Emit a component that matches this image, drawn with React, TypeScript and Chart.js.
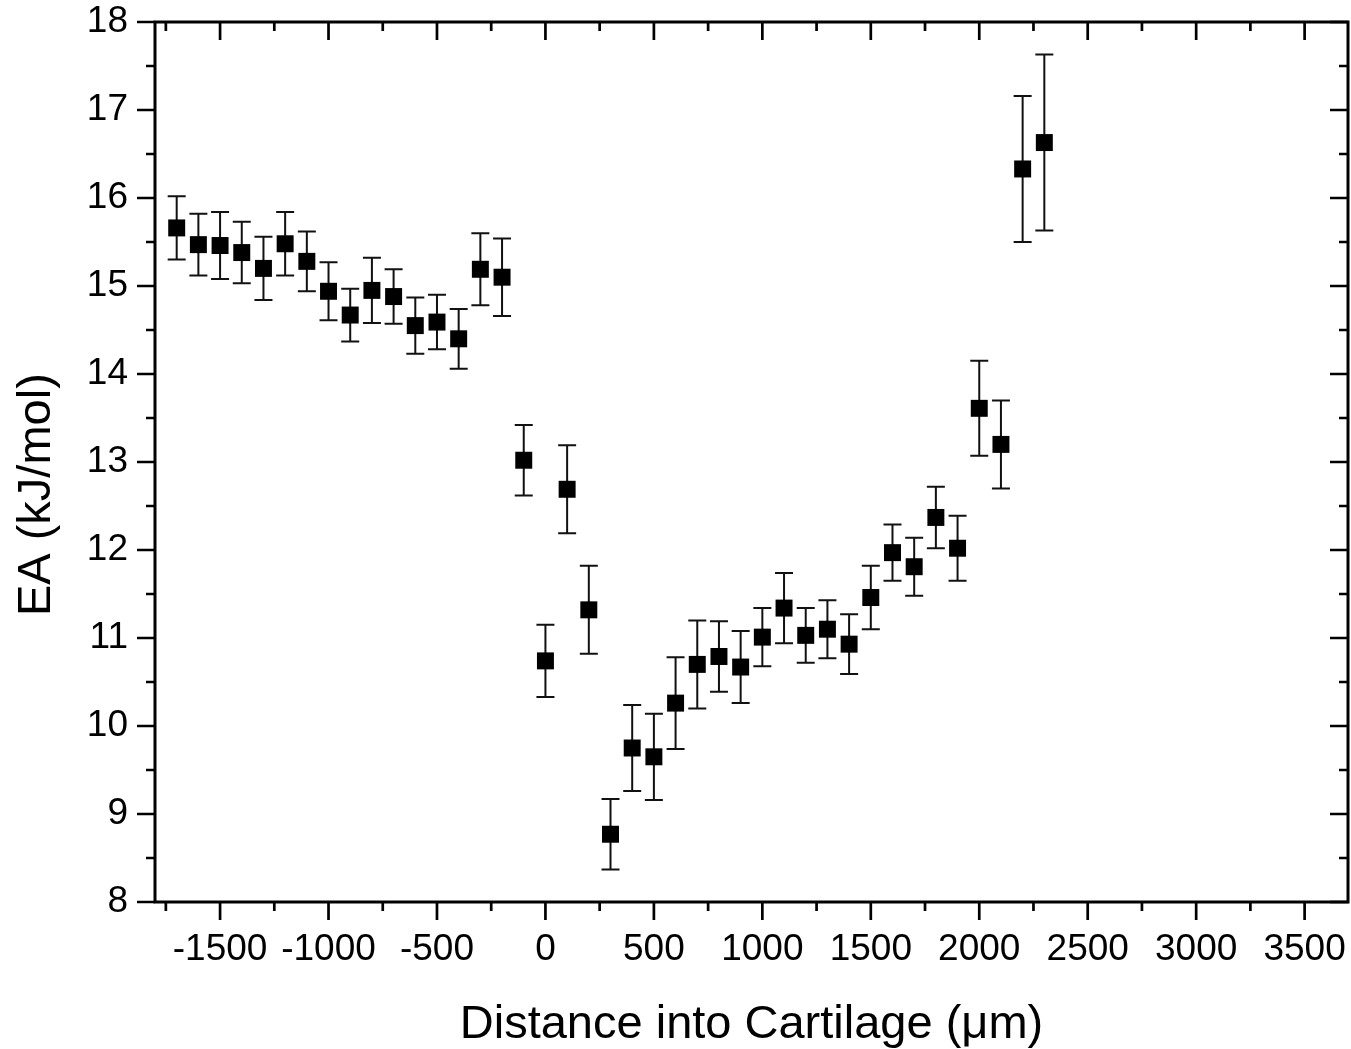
import { useEffect, useRef } from 'react';
import { Chart, registerables } from 'chart.js';

Chart.register(...registerables);

// Distance into cartilage (µm)
const distances = [
  -1700, -1600, -1500, -1400, -1300, -1200, -1100, -1000, -900, -800, -700,
  -600, -500, -400, -300, -200, -100, 0, 100, 200, 300, 400, 500, 600, 700,
  800, 900, 1000, 1100, 1200, 1300, 1400, 1500, 1600, 1700, 1800, 1900, 2000,
  2100, 2200, 2300,
];

// EA (kJ/mol)
const eaValues = [
  15.66, 15.47, 15.46, 15.38, 15.2, 15.48, 15.28, 14.94, 14.67, 14.95, 14.88,
  14.55, 14.59, 14.4, 15.19, 15.1, 13.02, 10.74, 12.69, 11.32, 8.77, 9.75,
  9.65, 10.26, 10.7, 10.79, 10.67, 11.01, 11.34, 11.03, 11.1, 10.93, 11.46,
  11.97, 11.81, 12.37, 12.02, 13.61, 13.2, 16.33, 16.63,
];

// error (± kJ/mol)
const eaErrors = [
  0.36, 0.35, 0.38, 0.35, 0.36, 0.36, 0.34, 0.33, 0.3, 0.37, 0.31, 0.32, 0.31,
  0.34, 0.41, 0.44, 0.4, 0.41, 0.5, 0.5, 0.4, 0.49, 0.49, 0.52, 0.5, 0.4, 0.41,
  0.33, 0.4, 0.31, 0.33, 0.34, 0.36, 0.32, 0.33, 0.35, 0.37, 0.54, 0.5, 0.83,
  1.0,
];

const xTickValues = [-1500, -1000, -500, 0, 500, 1000, 1500, 2000, 2500, 3000, 3500];
const xMinorTicks = [-1750, -1250, -750, -250, 250, 750, 1250, 1750, 2250, 2750, 3250];
const yTickValues = [8, 9, 10, 11, 12, 13, 14, 15, 16, 17, 18];
const yMinorTicks = [8.5, 9.5, 10.5, 11.5, 12.5, 13.5, 14.5, 15.5, 16.5, 17.5];

const FONT = '"Liberation Sans", Arial, Helvetica, sans-serif';

const errorBarPlugin = {
  id: 'errorBars',
  beforeDatasetsDraw(chart: any) {
    const { ctx } = chart;
    const x = chart.scales.x;
    const y = chart.scales.y;
    ctx.save();
    ctx.strokeStyle = '#111';
    ctx.lineWidth = 2;
    distances.forEach((d, i) => {
      const px = x.getPixelForValue(d);
      const top = y.getPixelForValue(eaValues[i] + eaErrors[i]);
      const bot = y.getPixelForValue(eaValues[i] - eaErrors[i]);
      ctx.beginPath();
      ctx.moveTo(px, top);
      ctx.lineTo(px, bot);
      ctx.moveTo(px - 9, top);
      ctx.lineTo(px + 9, top);
      ctx.moveTo(px - 9, bot);
      ctx.lineTo(px + 9, bot);
      ctx.stroke();
    });
    ctx.restore();
  },
};

const framePlugin = {
  id: 'frameTicks',
  afterDraw(chart: any) {
    const { ctx, chartArea } = chart;
    const { left, right, top, bottom } = chartArea;
    const x = chart.scales.x;
    const y = chart.scales.y;
    ctx.save();
    ctx.strokeStyle = '#000';
    ctx.lineWidth = 2.7;
    ctx.lineCap = 'butt';
    const major = 18;
    const minor = 9;
    ctx.beginPath();
    xTickValues.forEach((v) => {
      const px = x.getPixelForValue(v);
      ctx.moveTo(px, bottom);
      ctx.lineTo(px, bottom + major);
      ctx.moveTo(px, top);
      ctx.lineTo(px, top + major);
    });
    xMinorTicks.forEach((v) => {
      const px = x.getPixelForValue(v);
      ctx.moveTo(px, bottom);
      ctx.lineTo(px, bottom + minor);
      ctx.moveTo(px, top);
      ctx.lineTo(px, top + minor);
    });
    yTickValues.forEach((v) => {
      const py = y.getPixelForValue(v);
      ctx.moveTo(left - major, py);
      ctx.lineTo(left, py);
      ctx.moveTo(right - major, py);
      ctx.lineTo(right, py);
    });
    yMinorTicks.forEach((v) => {
      const py = y.getPixelForValue(v);
      ctx.moveTo(left - minor, py);
      ctx.lineTo(left, py);
      ctx.moveTo(right - minor, py);
      ctx.lineTo(right, py);
    });
    ctx.stroke();
    ctx.lineWidth = 3;
    ctx.strokeRect(left, top, right - left, bottom - top);
    ctx.restore();
  },
};

export default function App() {
  const canvasRef = useRef<HTMLCanvasElement | null>(null);

  useEffect(() => {
    if (!canvasRef.current) return;
    const chart = new Chart(canvasRef.current, {
      type: 'scatter',
      data: {
        datasets: [
          {
            label: 'EA',
            data: distances.map((d, i) => ({ x: d, y: eaValues[i] })),
            pointStyle: 'rect',
            pointRadius: 12,
            pointHoverRadius: 12,
            backgroundColor: '#000',
            borderColor: '#000',
            borderWidth: 0,
            showLine: false,
          },
        ],
      },
      options: {
        responsive: false,
        animation: false,
        devicePixelRatio: 1,
        layout: { autoPadding: false, padding: { top: 22, right: 3, left: 0, bottom: 0 } },
        plugins: {
          legend: { display: false },
          tooltip: { enabled: false },
        },
        scales: {
          x: {
            type: 'linear',
            min: -1800,
            max: 3700,
            afterBuildTicks: (s: any) => {
              s.ticks = xTickValues.map((v) => ({ value: v }));
            },
            afterFit: (s: any) => {
              s.height = 147;
              s.paddingLeft = 0;
              s.paddingRight = 0;
              s.paddingTop = 0;
              s.paddingBottom = 0;
            },
            grid: { display: false, drawTicks: false, tickLength: 0 },
            border: { display: false },
            ticks: {
              font: { family: FONT, size: 37 },
              color: '#000',
              padding: 26,
              maxRotation: 0,
              autoSkip: false,
              callback: (v: any) => String(v),
            },
            title: {
              display: true,
              text: 'Distance into Cartilage (μm)',
              font: { family: FONT, size: 47, lineHeight: 1 },
              color: '#000',
              padding: 0,
            },
          },
          y: {
            type: 'linear',
            min: 8,
            max: 18,
            afterBuildTicks: (s: any) => {
              s.ticks = yTickValues.map((v) => ({ value: v }));
            },
            afterFit: (s: any) => {
              s.width = 155;
              s.paddingLeft = 0;
              s.paddingRight = 0;
              s.paddingTop = 0;
              s.paddingBottom = 0;
            },
            grid: { display: false, drawTicks: false, tickLength: 0 },
            border: { display: false },
            ticks: {
              font: { family: FONT, size: 37 },
              color: '#000',
              padding: 27,
              autoSkip: false,
              callback: (v: any) => String(v),
            },
            title: {
              display: true,
              text: 'EA (kJ/mol)     ',
              font: { family: FONT, size: 47, lineHeight: 1 },
              color: '#000',
              padding: { top: 14, bottom: 0 },
            },
          },
        },
      },
      plugins: [errorBarPlugin, framePlugin],
    });
    return () => chart.destroy();
  }, []);

  return (
    <div style={{ position: 'absolute', left: 0, top: 0, width: 1351, height: 1049, background: '#fff' }}>
      <canvas ref={canvasRef} width={1351} height={1049} style={{ display: 'block' }} />
    </div>
  );
}
